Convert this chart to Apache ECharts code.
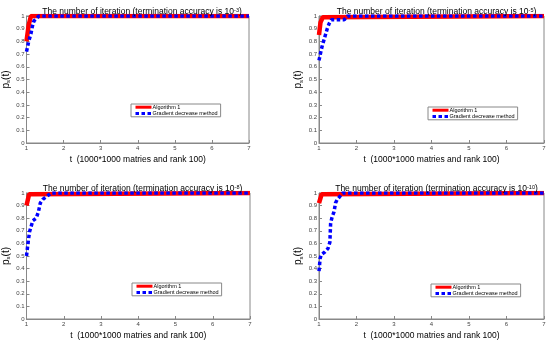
<!DOCTYPE html>
<html><head><meta charset="utf-8">
<script src="https://cdn.jsdelivr.net/npm/echarts@6/dist/echarts.min.js"></script>
<style>html,body{margin:0;padding:0;background:#fff}#c{width:550px;height:341px}</style>
</head><body><div id="c"></div>
<script>
var accuracyExp = ['-3', '-5', '-8', '-10'];
var seriesNames = ['Algorithm 1', 'Gradient decrease method'];
var xTicks = [1, 2, 3, 4, 5, 6, 7];
var yTicks = [0, 0.1, 0.2, 0.3, 0.4, 0.5, 0.6, 0.7, 0.8, 0.9, 1];

// Panel 1 (10^-3)
var alg1_t = [1, 1.02, 1.06, 1.12, 7];
var alg1_p = [0.8, 0.8, 0.93, 1, 1];
var grad1_t = [1, 1.03, 1.06, 1.12, 1.16, 1.2, 1.27, 1.33, 7];
var grad1_p = [0.72, 0.76, 0.8, 0.86, 0.92, 0.96, 0.98, 1, 1];
// Panel 2 (10^-5)
var alg2_t = [1, 1.02, 1.04, 1.1, 1.13, 7];
var alg2_p = [0.85, 0.85, 0.95, 0.99, 1, 1];
var grad2_t = [1, 1.05, 1.09, 1.13, 1.18, 1.22, 1.27, 1.33, 1.67, 1.76, 7];
var grad2_p = [0.65, 0.72, 0.77, 0.81, 0.86, 0.9, 0.94, 0.97, 0.97, 1, 1];
// Panel 3 (10^-8)
var alg3_t = [1, 1.04, 1.07, 1.1, 7];
var alg3_p = [0.9, 0.9, 0.99, 1, 1];
var grad3_t = [1, 1.04, 1.08, 1.12, 1.17, 1.26, 1.32, 1.37, 1.44, 1.53, 1.66, 7];
var grad3_p = [0.5, 0.6, 0.69, 0.73, 0.78, 0.8, 0.85, 0.92, 0.95, 0.97, 1, 1];
// Panel 4 (10^-10)
var alg4_t = [1, 1.03, 1.07, 1.1, 7];
var alg4_p = [0.92, 0.93, 0.99, 1, 1];
var grad4_t = [1, 1.03, 1.06, 1.15, 1.24, 1.29, 1.31, 1.35, 1.40, 1.44, 1.49, 1.55, 1.63, 7];
var grad4_p = [0.38, 0.48, 0.51, 0.53, 0.56, 0.61, 0.76, 0.81, 0.85, 0.92, 0.95, 0.97, 1, 1];

var algT = [alg1_t, alg2_t, alg3_t, alg4_t], algP = [alg1_p, alg2_p, alg3_p, alg4_p];
var gradT = [grad1_t, grad2_t, grad3_t, grad4_t], gradP = [grad1_p, grad2_p, grad3_p, grad4_p];

var grids = [
  {left: 25, top: 16, width: 224, height: 127},
  {left: 319, top: 16, width: 225, height: 127},
  {left: 25, top: 193, width: 225, height: 126},
  {left: 319, top: 193, width: 225, height: 126}
];
var legendPos = [
  {left: 131, top: 104}, {left: 428, top: 107}, {left: 132, top: 283}, {left: 431, top: 284}
];

function zip(a, b) { return a.map(function (v, i) { return [v, b[i]]; }); }

var option = {
  backgroundColor: '#fff',
  animation: false,
  textStyle: {fontFamily: "'Liberation Sans', Arial, sans-serif"},
  title: [], grid: [], xAxis: [], yAxis: [], series: [], legend: []
};
var font = "'Liberation Sans', Arial, sans-serif";
grids.forEach(function (g, i) {
  option.grid.push(Object.assign({show: true, borderColor: '#888', borderWidth: 1, backgroundColor: '#fff'}, g));
  option.title.push({
    text: '{a|The number of iteration (termination accuracy is 10}{s|' + accuracyExp[i] + '}{a|)}',
    left: g.left + g.width / 2, textAlign: 'center', top: g.top - 14,
    textStyle: {fontWeight: 'normal', fontFamily: font, rich: {
      a: {fontSize: 8.5, color: '#000', fontFamily: font, fontWeight: 'normal'},
      s: {fontSize: 5.5, color: '#000', fontFamily: font, fontWeight: 'normal', verticalAlign: 'top', padding: [0, 0, 4, 0]}
    }}
  });
  option.xAxis.push({
    type: 'value', gridIndex: i, min: 1, max: 7, interval: 1,
    name: 't  (1000*1000 matries and rank 100)', nameLocation: 'middle', nameGap: 12,
    nameTextStyle: {fontSize: 8.5, color: '#000', fontFamily: font},
    axisLine: {lineStyle: {color: '#888'}},
    axisTick: {inside: true, length: 3, lineStyle: {color: '#888'}},
    axisLabel: {fontSize: 6, color: '#444', margin: 2, fontFamily: font, showMinLabel: true, showMaxLabel: true,
      formatter: function (v) { return xTicks.indexOf(v) >= 0 ? String(v) : ''; }},
    splitLine: {show: false}
  });
  option.yAxis.push({
    type: 'value', gridIndex: i, min: 0, max: 1, interval: 0.1,
    name: '{p|p}{s|s}{p|(t)}', nameLocation: 'middle', nameGap: 15, nameRotate: 90,
    nameTextStyle: {fontFamily: font, rich: {
      p: {fontSize: 10, color: '#000', fontFamily: font},
      s: {fontSize: 6, color: '#000', fontFamily: font, verticalAlign: 'bottom', padding: [5, 0, 0, 0]}
    }},
    axisLine: {show: true, lineStyle: {color: '#888'}},
    axisTick: {inside: true, length: 3, lineStyle: {color: '#888'}},
    axisLabel: {fontSize: 6, color: '#444', margin: 2, fontFamily: font, showMinLabel: true, showMaxLabel: true,
      formatter: function (v) {
        var r = Math.round(v * 10) / 10; return yTicks.indexOf(r) >= 0 ? String(r) : ''; }},
    splitLine: {show: false}
  });
  option.series.push({
    name: seriesNames[0], type: 'line', xAxisIndex: i, yAxisIndex: i,
    data: zip(algT[i], algP[i]), showSymbol: false, symbol: 'none',
    lineStyle: {color: '#ff0000', width: 4.5}, itemStyle: {color: '#ff0000'}, z: 2
  });
  option.series.push({
    name: seriesNames[1], type: 'line', xAxisIndex: i, yAxisIndex: i,
    data: zip(gradT[i], gradP[i]), showSymbol: false, symbol: 'none',
    lineStyle: {color: '#0000ff', width: 3.5, type: [3.5, 2.5]}, itemStyle: {color: '#0000ff'}, z: 3
  });
  option.legend.push({
    left: legendPos[i].left, top: legendPos[i].top, orient: 'vertical',
    data: seriesNames,
    borderColor: '#888', borderWidth: 1, padding: [0, 3, 0, 3], itemGap: 0,
    itemWidth: 16, itemHeight: 8, backgroundColor: '#fff',
    itemStyle: {opacity: 0},
    lineStyle: {width: 3},
    textStyle: {fontSize: 5.5, color: '#000', fontFamily: font, padding: [0, 0, 0, -4]},
    selectedMode: false
  });
});
var chart = echarts.init(document.getElementById('c'));
chart.setOption(option);
</script></body></html>
